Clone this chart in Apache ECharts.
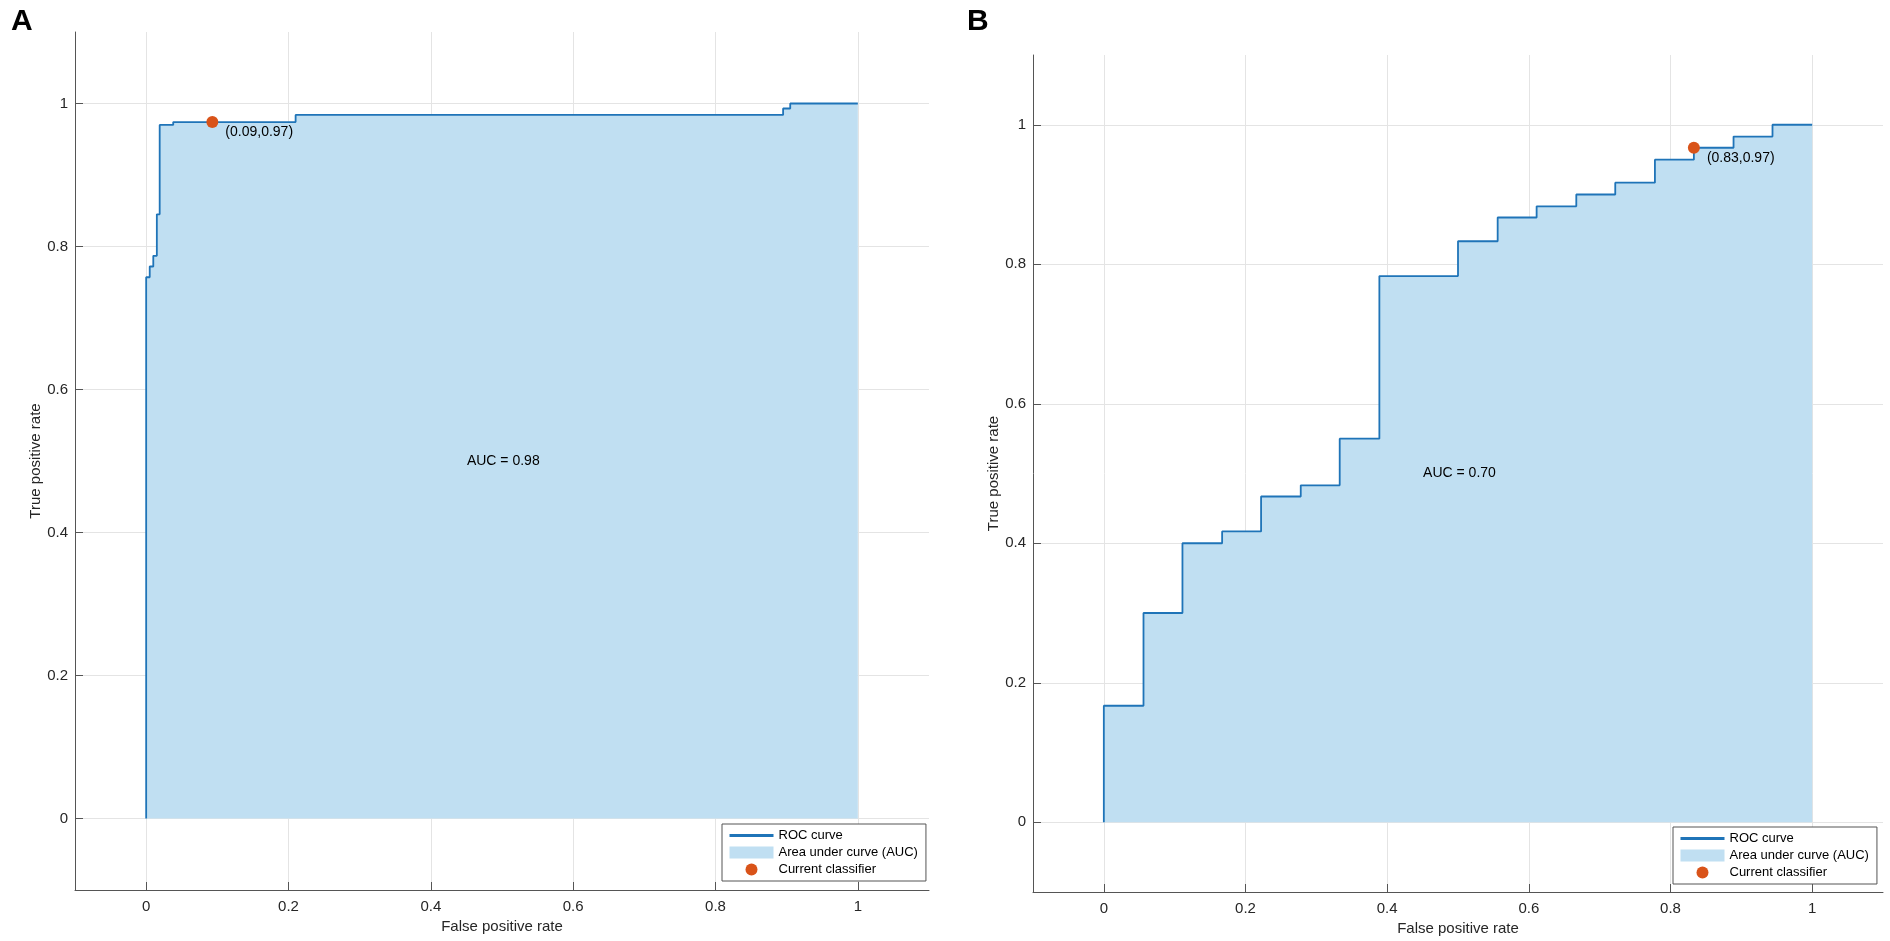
<!DOCTYPE html>
<html>
<head>
<meta charset="utf-8">
<script src="https://cdn.jsdelivr.net/npm/echarts@6/dist/echarts.min.js"></script>
<style>
  html, body { margin: 0; padding: 0; background: #fff; }
  #main { width: 1890px; height: 941px; }
</style>
</head>
<body>
<div id="main"></div>
<script>
// ROC points, panel A
let fprA = [0, 0, 0.005, 0.005, 0.01, 0.01, 0.015, 0.015, 0.019, 0.019, 0.038, 0.038, 0.21, 0.21, 0.895, 0.895, 0.905, 0.905, 1];
let tprA = [0, 0.757, 0.757, 0.772, 0.772, 0.787, 0.787, 0.845, 0.845, 0.97, 0.97, 0.974, 0.974, 0.984, 0.984, 0.993, 0.993, 1, 1];

// ROC points, panel B
let fprB = [0, 0, 0.056, 0.056, 0.111, 0.111, 0.167, 0.167, 0.222, 0.222, 0.278, 0.278, 0.333, 0.333, 0.389, 0.389, 0.5, 0.5, 0.556, 0.556, 0.611, 0.611, 0.667, 0.667, 0.722, 0.722, 0.778, 0.778, 0.833, 0.833, 0.889, 0.889, 0.944, 0.944, 1];
let tprB = [0, 0.167, 0.167, 0.3, 0.3, 0.4, 0.4, 0.417, 0.417, 0.467, 0.467, 0.483, 0.483, 0.55, 0.55, 0.783, 0.783, 0.833, 0.833, 0.867, 0.867, 0.883, 0.883, 0.9, 0.9, 0.917, 0.917, 0.95, 0.95, 0.967, 0.967, 0.983, 0.983, 1, 1];

let classifierA = [0.093, 0.974];
let classifierB = [0.833, 0.967];
let classifierLabels = ['(0.09,0.97)', '(0.83,0.97)'];
let aucLabels = ['AUC = 0.98', 'AUC = 0.70'];
let aucTextPos = [0.45, 0.5];
let tickValues = [0, 0.2, 0.4, 0.6, 0.8, 1];
let panelNames = ['A', 'B'];

let colors = {
    roc: '#1f74b8',
    auc: '#c0dff2',
    dot: '#d95319',
    axis: '#555555',
    text: '#262626',
    grid: '#e4e4e4'
};
let fontFamily = '"Liberation Sans", Arial, Helvetica, sans-serif';

function zip(xs, ys) {
    return xs.map((x, i) => [x, ys[i]]);
}

function makeAxis(idx, name, isX) {
    return {
        type: 'value',
        gridIndex: idx,
        min: -0.1,
        max: 1.1,
        name: name,
        nameLocation: 'middle',
        nameGap: isX ? 27 : 32,
        nameTextStyle: { color: colors.text, fontSize: 15, fontFamily: fontFamily },
        axisLine: { show: true, onZero: false, lineStyle: { color: colors.axis, width: 1 } },
        axisTick: { show: true, inside: true, length: 8, customValues: tickValues, lineStyle: { color: colors.axis } },
        axisLabel: { customValues: tickValues, color: colors.text, fontSize: 15, fontFamily: fontFamily, margin: isX ? 9 : 7 },
        splitLine: { show: true, lineStyle: { color: colors.grid, width: 1 } }
    };
}

function panelSeries(idx, fpr, tpr, dot) {
    return [
        {
            name: 'Area under curve (AUC)',
            type: 'line',
            xAxisIndex: idx, yAxisIndex: idx,
            data: zip(fpr, tpr),
            symbol: 'none',
            lineStyle: { width: 0 },
            itemStyle: { color: colors.auc },
            areaStyle: { color: colors.auc, opacity: 1 },
            silent: true,
            z: 1
        },
        {
            name: 'ROC curve',
            type: 'line',
            xAxisIndex: idx, yAxisIndex: idx,
            data: zip(fpr, tpr),
            symbol: 'none',
            lineStyle: { color: colors.roc, width: 1.8 },
            itemStyle: { color: colors.roc },
            z: 3
        },
        {
            name: 'Current classifier',
            type: 'scatter',
            xAxisIndex: idx, yAxisIndex: idx,
            data: [dot],
            symbol: 'circle',
            symbolSize: 12,
            itemStyle: { color: colors.dot, opacity: 1 },
            label: {
                show: true,
                position: 'right',
                distance: 7,
                offset: [0, 10],
                formatter: classifierLabels[idx],
                color: '#000',
                fontSize: 14,
                fontFamily: fontFamily
            },
            z: 4
        },
        {
            name: 'auc-text-' + idx,
            type: 'scatter',
            xAxisIndex: idx, yAxisIndex: idx,
            data: [aucTextPos],
            symbolSize: 1,
            itemStyle: { color: 'rgba(0,0,0,0)', opacity: 1 },
            label: {
                show: true,
                position: 'right',
                distance: 0,
                formatter: aucLabels[idx],
                color: '#000',
                fontSize: 14,
                fontFamily: fontFamily
            },
            silent: true,
            z: 4
        }
    ];
}

function makeLegend(left, top) {
    return {
        orient: 'vertical',
        left: left,
        top: top,
        width: 200,
        itemWidth: 44,
        itemHeight: 12,
        itemGap: 4,
        padding: [5, 8, 5, 6],
        backgroundColor: '#fff',
        borderColor: '#555',
        borderWidth: 1,
        selectedMode: false,
        textStyle: { color: '#000', fontSize: 13, fontFamily: fontFamily, padding: [0, 14, 0, 0] },
        data: [
            { name: 'ROC curve', itemStyle: { opacity: 0 }, lineStyle: { width: 3, color: colors.roc } },
            { name: 'Area under curve (AUC)', icon: 'rect', itemStyle: { color: colors.auc } },
            { name: 'Current classifier', icon: 'circle', itemStyle: { color: colors.dot, opacity: 1 } }
        ]
    };
}

const option = {
    animation: false,
    backgroundColor: '#fff',
    title: [
        { text: panelNames[0], left: 6, top: 2, textStyle: { fontSize: 30, fontWeight: 'bold', color: '#000', fontFamily: fontFamily } },
        { text: panelNames[1], left: 962, top: 2, textStyle: { fontSize: 30, fontWeight: 'bold', color: '#000', fontFamily: fontFamily } }
    ],
    legend: [makeLegend(722, 824), makeLegend(1673, 827)],
    grid: [
        { left: 75, top: 32, width: 854, height: 858 },
        { left: 1033, top: 55, width: 850, height: 837 }
    ],
    xAxis: [makeAxis(0, 'False positive rate', true), makeAxis(1, 'False positive rate', true)],
    yAxis: [makeAxis(0, 'True positive rate', false), makeAxis(1, 'True positive rate', false)],
    series: [].concat(
        panelSeries(0, fprA, tprA, classifierA),
        panelSeries(1, fprB, tprB, classifierB)
    )
};

let plot = echarts.init(document.querySelector('#main'));
plot.setOption(option);
</script>
</body>
</html>
